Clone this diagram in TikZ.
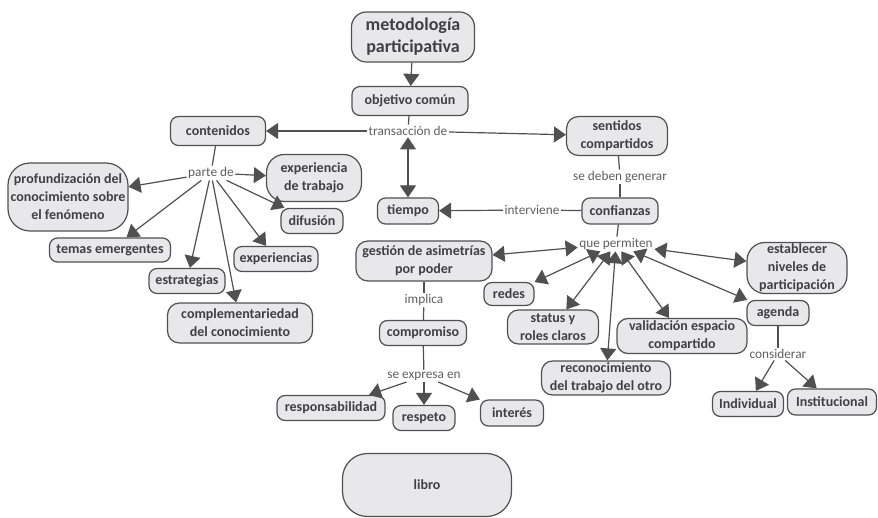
\documentclass[tikz,border=0pt]{standalone}
\usepackage{fontspec}
\setmainfont{Carlito}
\usetikzlibrary{arrows.meta}
\definecolor{boxfill}{RGB}{232,232,235}
\definecolor{boxline}{RGB}{80,80,80}
\definecolor{boxtext}{RGB}{64,64,64}
\definecolor{lbltext}{RGB}{95,95,95}

\begin{document}
\begin{tikzpicture}[x=1pt, y=-1pt,
  box/.style={draw=boxline, line width=1.2pt, fill=boxfill, rounded corners=8pt,
              text=boxtext, align=center, inner sep=0pt,
              font=\bfseries\fontsize{14}{18}\selectfont},
  lbl/.style={text=lbltext, inner sep=1.5pt, font=\fontsize{13.3}{15}\selectfont},
  link/.style={draw=boxline, line width=1.2pt},
  arr/.style={link, -{Triangle[width=16pt,length=12pt]}},
  dbl/.style={link, {Triangle[width=16pt,length=12pt]}-{Triangle[width=16pt,length=12pt]}}]
  \useasboundingbox (0,0) rectangle (878,518);
  % Top of the map
  \node(meto)[box, minimum width=123pt, minimum height=50pt, rounded corners=15pt,
              font=\bfseries\fontsize{18}{22}\selectfont] at (413,37) {metodología\\participativa};
  \node(obj)[box, minimum width=116pt, minimum height=29pt] at (410,101) {objetivo común};
  \node(trans)[lbl] at (408,131) {transacción de};
  \node(cont)[box, minimum width=95pt, minimum height=29pt] at (218,131) {contenidos};
  \node(sent)[box, minimum width=101pt, minimum height=39pt, rounded corners=12pt] at (617,136) {sentidos\\compartidos};
  \node(tiempo)[box, minimum width=61pt, minimum height=26pt] at (408,211) {tiempo};
  \node(gen)[lbl] at (620,177) {se deben generar};
  \node(conf)[box, minimum width=76pt, minimum height=26pt] at (620,211) {confianzas};
  \node(interv)[lbl] at (532,210) {interviene};
  \node(perm)[lbl] at (616,244) {que permiten};
  % Left branch
  \node(parte)[lbl] at (211,173) {parte de};
  \node(prof)[box, minimum width=120pt, minimum height=68pt, rounded corners=22pt] at (68,197) {profundización del\\conocimiento sobre\\el fenómeno};
  \node(exptrab)[box, minimum width=95pt, minimum height=47pt, rounded corners=18pt] at (314,178) {experiencia\\de trabajo};
  \node(difus)[box, minimum width=62pt, minimum height=25pt] at (312,221) {difusión};
  \node(temas)[box, minimum width=121pt, minimum height=24pt] at (110,250) {temas emergentes};
  \node(exper)[box, minimum width=84pt, minimum height=25pt] at (276,259) {experiencias};
  \node(estrat)[box, minimum width=76pt, minimum height=25pt] at (187,281) {estrategias};
  \node(compl)[box, minimum width=145pt, minimum height=40pt, rounded corners=12pt] at (240,323) {complementariedad\\del conocimiento};
  % Middle branch
  \node(gest)[box, minimum width=136pt, minimum height=40pt, rounded corners=12pt] at (424,261) {gestión de asimetrías\\por poder};
  \node(impl)[lbl] at (424,300) {implica};
  \node(compr)[box, minimum width=87pt, minimum height=25pt] at (423,333) {compromiso};
  \node(expr)[lbl] at (424,376) {se expresa en};
  \node(resp)[box, minimum width=108pt, minimum height=25pt] at (331,408) {responsabilidad};
  \node(respeto)[box, minimum width=62pt, minimum height=25pt] at (424,418) {respeto};
  \node(inter)[box, minimum width=63pt, minimum height=26pt] at (512,413) {interés};
  \node(libro)[box, minimum width=169pt, minimum height=63pt, rounded corners=25pt] at (427,485) {libro};
  % Right branch
  \node(redes)[box, minimum width=50pt, minimum height=23pt] at (509,294) {redes};
  \node(status)[box, minimum width=91pt, minimum height=34pt, rounded corners=11pt] at (553,327) {status y\\roles claros};
  \node(recon)[box, minimum width=129pt, minimum height=34pt, rounded corners=11pt] at (606,378) {reconocimiento\\del trabajo del otro};
  \node(valid)[box, minimum width=130pt, minimum height=35pt, rounded corners=11pt] at (682,336) {validación espacio\\compartido};
  \node(estab)[box, minimum width=100pt, minimum height=51pt, rounded corners=18pt] at (797,268) {establecer\\niveles de\\participación};
  \node(agenda)[box, minimum width=62pt, minimum height=25pt] at (778,313) {agenda};
  \node(consid)[lbl] at (778,354) {considerar};
  \node(indiv)[box, minimum width=71pt, minimum height=25pt] at (748,404) {Individual};
  \node(inst)[box, minimum width=89pt, minimum height=26pt] at (832,402) {Institucional};
  % Connections
  \draw[arr] (meto) -- (obj);
  \draw[link] (obj) -- (trans);
  \draw[arr] (trans) -- (cont);
  \draw[arr] (trans) -- (sent);
  \draw[dbl] (trans) -- (tiempo);
  \draw[link] (sent) -- (gen);
  \draw[link] (gen) -- (conf);
  \draw[link] (conf) -- (interv);
  \draw[arr] (interv) -- (tiempo);
  \draw[link] (conf) -- (perm);
  \draw[link] (cont) -- (parte);
  \foreach \t in {prof,exptrab,difus,temas,exper,estrat,compl}
    \draw[arr] (parte) -- (\t);
  \foreach \t in {gest,redes,status,recon,valid,estab,agenda}
    \draw[dbl] (perm) -- (\t);
  \draw[link] (gest) -- (impl);
  \draw[link] (impl) -- (compr);
  \draw[link] (compr) -- (expr);
  \foreach \t in {resp,respeto,inter}
    \draw[arr] (expr) -- (\t);
  \draw[link] (agenda) -- (consid);
  \draw[arr] (consid) -- (indiv);
  \draw[arr] (consid) -- (inst);
\end{tikzpicture}
\end{document}
